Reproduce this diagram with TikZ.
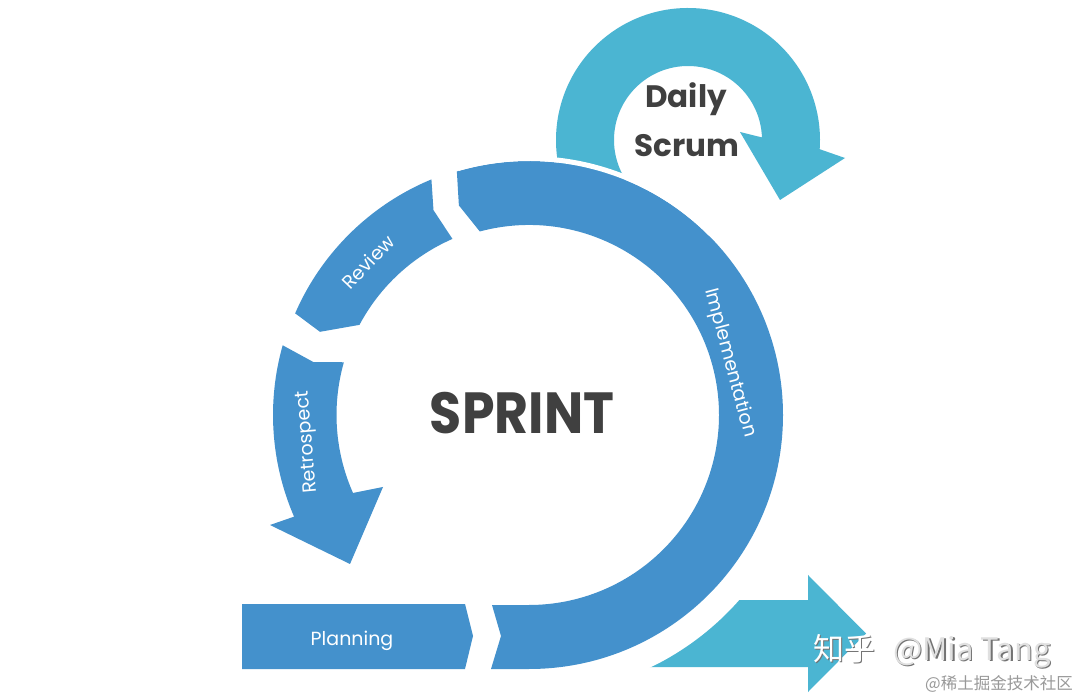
\documentclass[tikz,border=0pt]{standalone}
\usepackage{fontspec}
\setmainfont{Poppins}
\newfontfamily\cjkfont{Noto Sans CJK SC}
\usetikzlibrary{calc}
\definecolor{ringblue}{RGB}{68,145,204}
\definecolor{scrumteal}{RGB}{75,181,210}
\definecolor{textgray}{RGB}{64,64,64}
\tikzset{
  ringpiece/.style={fill=ringblue},
  tealpiece/.style={fill=scrumteal},
  ringlabel/.style={text=white, font=\fontsize{19}{22}\selectfont, inner sep=0pt},
  darklabel/.style={text=textgray, inner sep=0pt},
  wmshadow/.style={text=black!55, inner sep=0pt, anchor=base west},
}
\begin{document}
\begin{tikzpicture}[x=1pt,y=1pt]
\useasboundingbox (0,0) rectangle (1080,697);
\fill[white] (0,0) rectangle (1080,697);
\coordinate (C) at (529,282);
\coordinate (D) at (688,557);

% bottom-right outgoing arrow
\fill[tealpiece] (600,97) -- (808,97) -- (808,122) -- (866,63.5) -- (808,5) -- (808,30) -- (600,30) -- cycle;
\fill[white] (C) circle[radius=280];

% daily scrum loop
\fill[tealpiece] ($(D)+(220:132)$) arc[start angle=220,end angle=-4,radius=132]
  -- (845,539) -- (780,497) -- (740,565)
  -- ($(D)+(2:74)$) arc[start angle=2,end angle=220,radius=74] -- cycle;

% planning
\fill[ringpiece] (242,93) -- (465,93) -- (473,61) -- (465,28) -- (242,28) -- cycle;

% implementation
\fill[ringpiece] (491,28) -- (529,28) arc[start angle=-90,end angle=106.5,radius=254]
  -- ($(C)+(108.5:221)$) -- ($(C)+(105:190)$)
  arc[start angle=105,end angle=-90,radius=190] -- (492,92) -- (501,61) -- cycle;
\draw[white, line width=5pt] ($(C)+(45:256.5)$) arc[start angle=45,end angle=106,radius=256.5];

% review
\fill[ringpiece] ($(C)+(112.5:255)$) arc[start angle=112.5,end angle=156.5,radius=255]
  -- ($(C)+(158.3:225)$) -- ($(C)+(152:192)$)
  arc[start angle=152,end angle=113.5,radius=192] -- ($(C)+(115:226)$) -- cycle;

% retrospect
\fill[ringpiece] ($(C)+(164.2:256)$) arc[start angle=164.2,end angle=203.4,radius=256]
  -- (270,172) -- (350,133) -- (383,210) -- ($(C)+(203.9:192.5)$)
  arc[start angle=203.9,end angle=164.1,radius=192.5] -- ($(C)+(166.2:222)$) -- cycle;

% labels
\node[ringlabel, rotate=46.5] (review) at (368,435) {Review};
\node[ringlabel, rotate=95] (retro) at (308,255) {Retrospect};
\node[ringlabel, rotate=-75] (impl) at (730,334) {Implementation};
\node[ringlabel, anchor=base] (plan) at (352,52) {Planning};
\node[darklabel, anchor=base, font=\fontsize{58}{60}\selectfont\bfseries, xscale=0.9] (sprint) at (522,263) {SPRINT};
\node[darklabel, anchor=base, font=\fontsize{31}{34}\selectfont\bfseries] (daily) at (686,589) {Daily};
\node[darklabel, anchor=base, font=\fontsize{31}{34}\selectfont\bfseries] (scrum) at (687,540) {Scrum};

% watermark
\node[wmshadow, font=\cjkfont\fontsize{31}{34}\selectfont] at (814.5,35.5) {知乎};
\node[inner sep=0pt, anchor=base west, text=white, font=\cjkfont\fontsize{31}{34}\selectfont] (zh) at (813,37) {知乎};
\node[wmshadow, font=\cjkfont\fontsize{31}{34}\selectfont] at (894.5,35.5) {@Mia Tang};
\node[inner sep=0pt, anchor=base west, text=black!12, font=\cjkfont\fontsize{31}{34}\selectfont] (mia) at (893,37) {@Mia Tang};
\node[inner sep=0pt, anchor=base east, text=black!40, font=\cjkfont\fontsize{16.5}{18}\selectfont] (juejin) at (1073,8) {@稀土掘金技术社区};
\end{tikzpicture}
\end{document}
